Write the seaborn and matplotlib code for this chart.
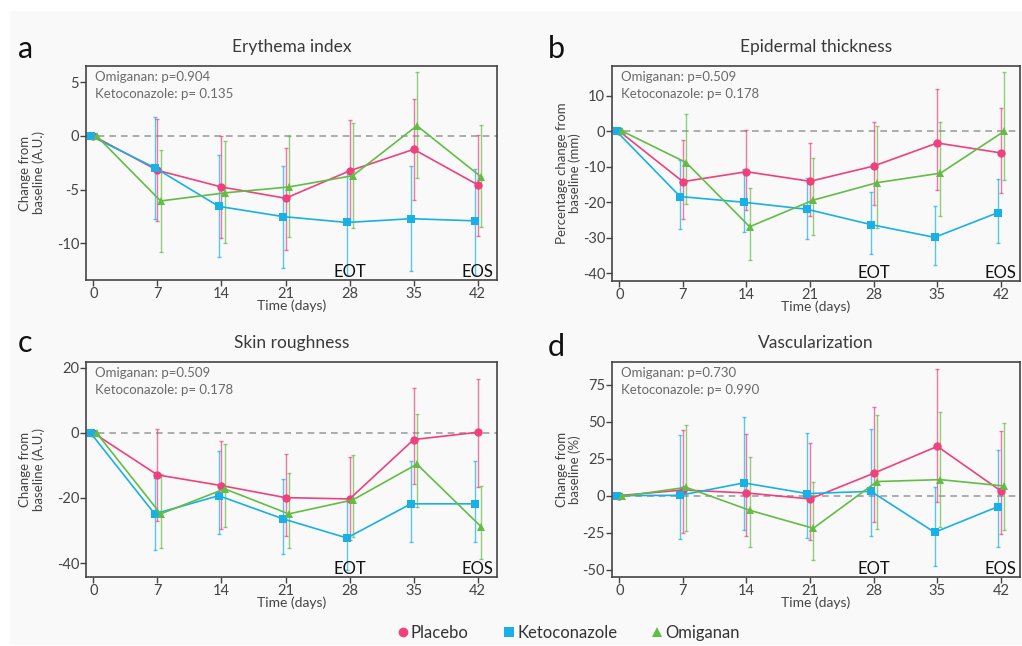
import numpy as np
import pandas as pd
import matplotlib
matplotlib.use("Agg")
import matplotlib.pyplot as plt
from matplotlib.patches import Rectangle
from matplotlib.lines import Line2D
import seaborn as sns

days = [0, 7, 14, 21, 28, 35, 42]
groups = ["Placebo", "Ketoconazole", "Omiganan"]

# Panel a: Erythema index (mean, upper and lower error-bar ends)
ery_placebo = [0, -3.2, -4.75, -5.8, -3.25, -1.25, -4.55]
ery_placebo_hi = [0, 1.6, 0.0, -1.1, 1.45, 3.47, 0.1]
ery_placebo_lo = [0, -7.9, -9.5, -10.6, -8.0, -6.0, -9.3]
ery_keto = [0, -2.95, -6.55, -7.5, -8.05, -7.7, -7.9]
ery_keto_hi = [0, 1.76, -1.8, -2.8, -3.3, -2.8, -3.07]
ery_keto_lo = [0, -7.7, -11.3, -12.3, -12.9, -12.57, -12.9]
ery_omi = [0, -6.05, -5.3, -4.75, -3.7, 0.95, -3.8]
ery_omi_hi = [0, -1.33, -0.5, 0.0, 1.2, 5.94, 1.0]
ery_omi_lo = [0, -10.77, -10.0, -9.44, -8.6, -3.87, -8.5]

# Panel b: Epidermal thickness
epi_placebo = [0, -14.2, -11.4, -14.1, -9.8, -3.3, -6.1]
epi_placebo_hi = [0, -2.5, 0.5, -3.2, 2.6, 12.0, 6.65]
epi_placebo_lo = [0, -24.7, -22.2, -24.0, -20.8, -16.6, -17.3]
epi_keto = [0, -18.4, -20.0, -22.0, -26.3, -29.9, -22.9]
epi_keto_hi = [0, -8.15, -10.6, -13.1, -17.2, -21.1, -13.4]
epi_keto_lo = [0, -27.5, -28.5, -30.4, -34.6, -37.8, -31.4]
epi_omi = [0, -8.8, -26.9, -19.4, -14.5, -11.8, 0.0]
epi_omi_hi = [0, 5.0, -16.0, -7.6, 1.6, 2.7, 16.7]
epi_omi_lo = [0, -20.5, -36.3, -29.2, -27.4, -24.0, -13.8]

# Panel c: Skin roughness
rough_placebo = [0, -12.9, -16.2, -19.9, -20.3, -2.05, 0.2]
rough_placebo_hi = [0, 1.3, -2.6, -6.5, -7.5, 13.9, 16.6]
rough_placebo_lo = [0, -27.0, -29.5, -31.6, -32.8, -15.7, -16.7]
rough_keto = [0, -24.9, -19.3, -26.4, -32.3, -21.8, -21.8]
rough_keto_hi = [0, -13.9, -5.6, -14.1, -21.0, -8.7, -8.7]
rough_keto_lo = [0, -35.9, -31.1, -37.2, -42.0, -33.5, -33.5]
rough_omi = [0, -24.9, -17.2, -24.9, -20.6, -9.6, -28.8]
rough_omi_hi = [0, -12.6, -3.4, -12.3, -6.9, 5.9, -16.4]
rough_omi_lo = [0, -35.5, -28.9, -35.5, -32.0, -22.9, -38.8]

# Panel d: Vascularization
vasc_placebo = [0, 3.8, 1.8, -2.25, 15.1, 33.3, 3.15]
vasc_placebo_hi = [0, 44.4, 41.9, 35.8, 59.9, 85.8, 43.9]
vasc_placebo_lo = [0, -25.2, -27.0, -29.7, -17.8, -4.0, -25.9]
vasc_keto = [0, 0.2, 8.6, 1.35, 2.9, -24.8, -7.4]
vasc_keto_hi = [0, 40.8, 52.9, 42.6, 45.3, 5.9, 30.6]
vasc_keto_lo = [0, -29.3, -23.4, -28.8, -27.0, -47.3, -34.7]
vasc_omi = [-0.5, 5.6, -9.9, -22.1, 9.5, 10.8, 6.5]
vasc_omi_hi = [-0.5, 47.7, 26.1, 9.5, 54.7, 56.8, 49.1]
vasc_omi_lo = [-0.5, -23.6, -34.9, -43.2, -22.3, -21.2, -23.2]

titles = ["Erythema index", "Epidermal thickness", "Skin roughness", "Vascularization"]
letters = ["a", "b", "c", "d"]
ylabels = ["Change from\nbaseline (A.U.)", "Percentage change from\nbaseline (mm)",
           "Change from\nbaseline (A.U.)", "Change from\nbaseline (%)"]
pvals_omi = ["0.904", "0.509", "0.509", "0.730"]
pvals_keto = ["0.135", "0.178", "0.178", "0.990"]
yticks = [[5, 0, -5, -10], [10, 0, -10, -20, -30, -40], [20, 0, -20, -40], [75, 50, 25, 0, -25, -50]]
ylims = [(-13.4, 6.5), (-42.2, 18.4), (-44.3, 21.8), (-55.0, 90.3)]

panels = [
    [(ery_placebo, ery_placebo_lo, ery_placebo_hi), (ery_keto, ery_keto_lo, ery_keto_hi),
     (ery_omi, ery_omi_lo, ery_omi_hi)],
    [(epi_placebo, epi_placebo_lo, epi_placebo_hi), (epi_keto, epi_keto_lo, epi_keto_hi),
     (epi_omi, epi_omi_lo, epi_omi_hi)],
    [(rough_placebo, rough_placebo_lo, rough_placebo_hi), (rough_keto, rough_keto_lo, rough_keto_hi),
     (rough_omi, rough_omi_lo, rough_omi_hi)],
    [(vasc_placebo, vasc_placebo_lo, vasc_placebo_hi), (vasc_keto, vasc_keto_lo, vasc_keto_hi),
     (vasc_omi, vasc_omi_lo, vasc_omi_hi)],
]

colors = {"Placebo": "#f0407e", "Ketoconazole": "#18b0e6", "Omiganan": "#62bd45"}
markers = {"Placebo": "o", "Ketoconazole": "s", "Omiganan": "^"}
offsets = {"Placebo": 0.0, "Ketoconazole": -0.3, "Omiganan": 0.35}

sns.set_theme(style="ticks")
plt.rcParams["font.family"] = ["Lato", "DejaVu Sans"]
plt.rcParams["axes.unicode_minus"] = False

W, H = 1022, 646
fig = plt.figure(figsize=(W / 100, H / 100), dpi=100)
fig.patch.set_facecolor("white")
fig.add_artist(Rectangle((10 / W, 1 - 645 / H), 1012 / W, 634 / H, transform=fig.transFigure,
                         facecolor="#f9f9f9", edgecolor="none", zorder=-10))

boxes = [(86, 66, 497, 280), (612, 66, 1020, 281), (86, 362, 497, 577), (612, 362, 1020, 577)]
ylab_x = [-0.10, -0.075, -0.10, -0.075]
letter_pos = [(18, 58), (548, 58), (18, 352), (548, 356)]

for i, (l, t, r, b) in enumerate(boxes):
    ax = fig.add_axes([l / W, 1 - b / H, (r - l) / W, (b - t) / H])
    ax.set_facecolor("none")
    rows = []
    for g, (vals, lo, hi) in zip(groups, panels[i]):
        for d, v, a, c in zip(days, vals, lo, hi):
            rows.append({"group": g, "day": d, "x": d + offsets[g], "value": v, "lo": a, "hi": c})
    df = pd.DataFrame(rows)
    ax.axhline(0, color="#a0a0a0", lw=1.2, ls=(0, (4, 3)), zorder=1)
    for g in groups:
        sub = df[(df.group == g) & (df.hi > df.lo)]
        yerr = np.vstack([sub.value - sub.lo, sub.hi - sub.value])
        ax.errorbar(sub.x, sub.value, yerr=yerr, fmt="none", ecolor=colors[g], alpha=0.7,
                    elinewidth=1.0, capsize=1.5, capthick=1.0, zorder=2)
    sns.lineplot(data=df, x="x", y="value", hue="group", style="group", hue_order=groups,
                 style_order=groups, palette=colors, markers=markers, dashes=False,
                 markersize=6, markeredgewidth=0, linewidth=1.2, legend=False, ax=ax, zorder=3)
    ax.set_xlim(-0.8, 44.1)
    ax.set_ylim(*ylims[i])
    ax.set_xticks(days)
    ax.set_yticks(yticks[i])
    ax.tick_params(colors="#444444", labelcolor="#444444", labelsize=10.5, length=4, width=1, pad=1)
    for s in ax.spines.values():
        s.set_color("#444444")
        s.set_linewidth(1.2)
    ax.set_xlabel("Time (days)", fontsize=10, color="#444444", labelpad=-1)
    ax.set_ylabel(ylabels[i], fontsize=9.5, color="#444444", linespacing=1.1)
    ax.yaxis.set_label_coords(ylab_x[i], 0.5)
    ax.set_title(titles[i], fontsize=12.5, color="#3a3a3a", pad=10)
    ax.text(0.022, 0.975, f"Omiganan: p={pvals_omi[i]}\nKetoconazole: p= {pvals_keto[i]}",
            transform=ax.transAxes, ha="left", va="top", fontsize=9.5, color="#6a6a6a",
            linespacing=1.45)
    ax.text(28, ylims[i][0], "EOT", ha="center", va="bottom", fontsize=12, color="#111111")
    ax.text(42, ylims[i][0], "EOS", ha="center", va="bottom", fontsize=12, color="#111111")
    lx, ly = letter_pos[i]
    fig.text(lx / W, 1 - ly / H, letters[i], fontsize=22, color="#111111", ha="left", va="baseline")

handles = [Line2D([], [], ls="none", marker=markers[g], color=colors[g], markersize=7,
                  markeredgewidth=0, label=g) for g in groups]
fig.legend(handles=handles, loc="center", bbox_to_anchor=(568 / W, 1 - 633 / H), ncol=3,
           frameon=False, fontsize=12, handletextpad=0.1, columnspacing=2.0, handlelength=0.8,
           labelcolor="#333333")

fig.savefig("out.png", dpi=100, facecolor=fig.get_facecolor())
